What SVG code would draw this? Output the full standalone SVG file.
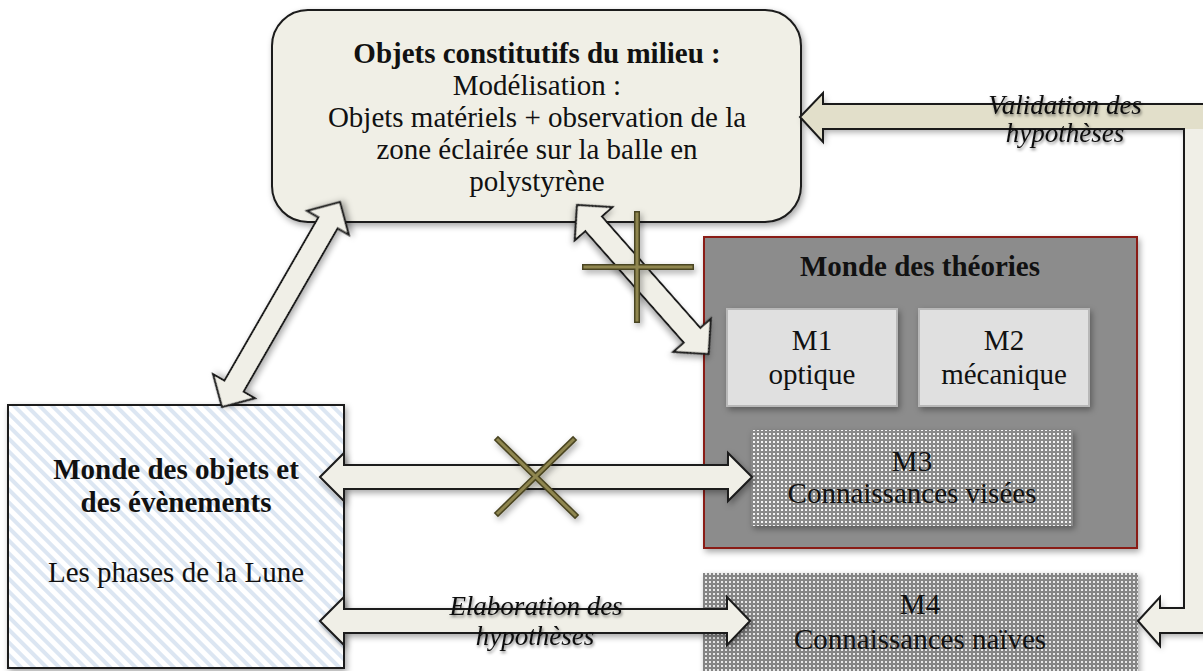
<svg xmlns="http://www.w3.org/2000/svg" width="1203" height="671" viewBox="0 0 1203 671">
<style>
.t{font-family:"Liberation Serif","Times New Roman",serif;font-size:29px;fill:#111;text-anchor:middle}
.b{font-weight:bold}
.i{font-style:italic;font-size:27px}
.arrow{fill:#f0efe7;stroke:#1a1a1a;stroke-width:2;stroke-linejoin:miter}
.xo{stroke:#4a4420;stroke-width:6;stroke-linecap:square}
.xi{stroke:#8f8650;stroke-width:3;stroke-linecap:square}
</style>
<defs>
<filter id="sh" x="-20%" y="-20%" width="140%" height="140%">
<feDropShadow dx="2" dy="3" stdDeviation="3" flood-color="#000" flood-opacity="0.35"/>
</filter>
<filter id="tsh" x="-20%" y="-40%" width="140%" height="180%">
<feDropShadow dx="1" dy="2" stdDeviation="1.5" flood-color="#000" flood-opacity="0.5"/>
</filter>
<pattern id="stripes" patternUnits="userSpaceOnUse" width="9" height="9" patternTransform="rotate(-45)">
<rect width="9" height="9" fill="#ffffff"/>
<rect width="4" height="9" fill="#dce6f2"/>
</pattern>
<pattern id="dots" patternUnits="userSpaceOnUse" width="4" height="4">
<rect width="4" height="4" fill="#8a8a8a"/>
<rect x="1" y="1" width="2" height="2" fill="#f4f4f4"/>
</pattern>
<pattern id="dots2" patternUnits="userSpaceOnUse" width="4" height="4">
<rect width="4" height="4" fill="#858585"/>
<rect x="1" y="1" width="2" height="2" fill="#e8e8e8"/>
</pattern>
</defs>
<rect width="1203" height="671" fill="#ffffff"/>

<g id="milieu">
<rect x="272" y="10" width="529" height="212" rx="36" ry="36" fill="#f0efe6" stroke="#1a1a1a" stroke-width="2" filter="url(#sh)"/>
<text class="t b" x="537" y="63">Objets constitutifs du milieu :</text>
<text class="t" x="537" y="95">Modélisation :</text>
<text class="t" x="537" y="127">Objets matériels + observation de la</text>
<text class="t" x="537" y="159">zone éclairée sur la balle en</text>
<text class="t" x="537" y="191">polystyrène</text>
</g>

<g id="objets">
<rect x="8" y="405" width="336" height="263" fill="url(#stripes)" stroke="#1a1a1a" stroke-width="2" filter="url(#sh)"/>
<text class="t b" x="176" y="479">Monde des objets et</text>
<text class="t b" x="176" y="512">des évènements</text>
<text class="t" x="176" y="582">Les phases de la Lune</text>
</g>

<g id="theories">
<rect x="704" y="237" width="433" height="311" fill="#8c8c8c" stroke="#8a1a14" stroke-width="2" filter="url(#sh)"/>
<text class="t b" x="920" y="276">Monde des théories</text>
</g>

<g id="m1">
<rect x="727" y="309" width="170" height="97" fill="#e0e0e0" stroke="#b8b8b8" stroke-width="2" filter="url(#sh)"/>
<text class="t" x="812" y="350">M1</text>
<text class="t" x="812" y="384">optique</text>
</g>

<g id="m2">
<rect x="919" y="309" width="170" height="97" fill="#e0e0e0" stroke="#b8b8b8" stroke-width="2" filter="url(#sh)"/>
<text class="t" x="1004" y="350">M2</text>
<text class="t" x="1004" y="384">mécanique</text>
</g>

<g id="m3">
<rect x="751" y="430" width="322" height="96" fill="url(#dots)" filter="url(#sh)"/>
<text class="t" x="912" y="471">M3</text>
<text class="t" x="912" y="503">Connaissances visées</text>
</g>

<g id="m4">
<rect x="703" y="573" width="435" height="110" fill="url(#dots2)" filter="url(#sh)"/>
<text class="t" x="920" y="614">M4</text>
<text class="t" x="920" y="649">Connaissances naïves</text>
</g>

<g id="connectors">
<polygon class="arrow" filter="url(#sh)" transform="translate(222,407) rotate(-60.08)" points="0,0 24,-24 24,-11 212.5,-11 212.5,-24 236.5,0 212.5,24 212.5,11 24,11 24,24"/>
<polygon class="arrow" filter="url(#sh)" transform="translate(577,205) rotate(48.55)" points="0,0 25,-25 25,-11 173.8,-11 173.8,-25 198.8,0 173.8,25 173.8,11 25,11 25,25"/>
<polygon class="arrow" filter="url(#sh)" points="320,477 344,453 344,465 728,465 728,453 752,477 728,501 728,489 344,489 344,501"/>
<polygon class="arrow" filter="url(#sh)" points="320,621 344,597 344,609 727,609 727,597 750,621 727,645 727,633 344,633 344,645"/>
<path d="M1138,621 L1160,597 L1160,608 L1184,608 L1184,129 L823,129 L823,142 L800,117 L823,93 L823,104 L1215,104 L1215,633 L1160,633 L1160,646 Z" fill="#f0efe7" filter="url(#sh)"/>
<path d="M800,117 L823,93 L823,104 L1215,104 L1215,129 L823,129 L823,142 Z" fill="#e2dfca"/>
<path d="M1138,621 L1160,597 L1160,608 L1184,608 L1184,129 L823,129 L823,142 L800,117 L823,93 L823,104 L1215,104 L1215,633 L1160,633 L1160,646 Z" fill="none" stroke="#1a1a1a" stroke-width="2"/>
<g filter="url(#sh)">
<line class="xo" x1="637" y1="214" x2="637" y2="320"/>
<line class="xo" x1="585" y1="267" x2="691" y2="267"/>
<line class="xi" x1="637" y1="214" x2="637" y2="320"/>
<line class="xi" x1="585" y1="267" x2="691" y2="267"/>
</g>
<g filter="url(#sh)">
<line class="xo" x1="498" y1="440" x2="575" y2="515"/>
<line class="xo" x1="573" y1="440" x2="498" y2="513"/>
<line class="xi" x1="498" y1="440" x2="575" y2="515"/>
<line class="xi" x1="573" y1="440" x2="498" y2="513"/>
</g>
<g filter="url(#tsh)">
<text class="t i" x="1065" y="114">Validation des</text>
<text class="t i" x="1065" y="142">hypothèses</text>
<text class="t i" x="536" y="615">Elaboration des</text>
<text class="t i" x="535" y="645">hypothèses</text>
</g>
</g>
</svg>
